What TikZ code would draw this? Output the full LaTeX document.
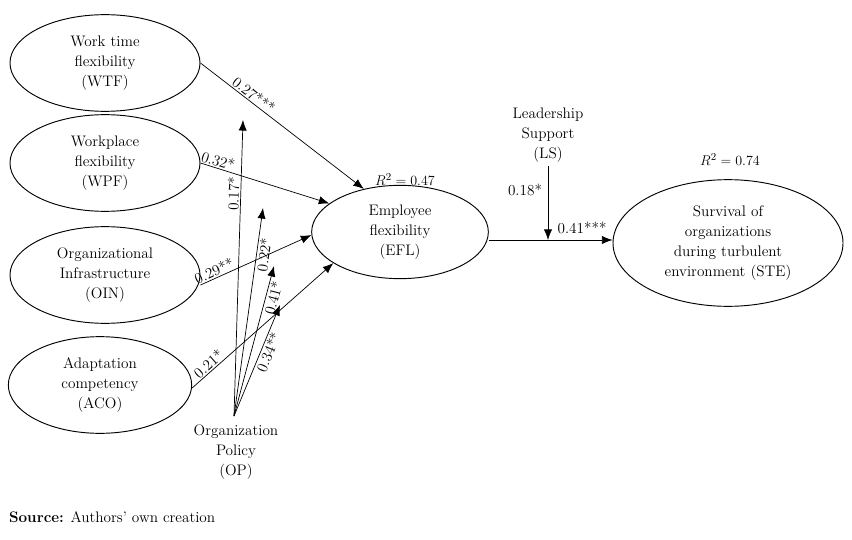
\documentclass[tikz,border=0pt]{standalone}
\usetikzlibrary{positioning, shapes.geometric, arrows.meta}
\begin{document}
\begin{tikzpicture}[x=0.03cm, y=-0.03cm, font=\fontsize{13}{17}\selectfont]

        % Styles
        \tikzset{var/.style={ellipse, draw, thick, align=center, inner sep=0pt},
                 path/.style={-{Latex[length=9pt,width=7pt]}, semithick},
                 coef/.style={sloped, above, inner sep=1pt}}
        \useasboundingbox (0,0) rectangle (852,540);

        % Nœuds
        \node[var, text width=3cm, minimum width=5.7cm, minimum height=2.9cm] (wtf) at (105,63) {Work time\\flexibility\\(WTF)};
        \node[var, text width=3cm, minimum width=5.7cm, minimum height=2.9cm] (wpf) at (105,163) {Workplace\\flexibility\\(WPF)};
        \node[var, text width=3.5cm, minimum width=5.7cm, minimum height=2.9cm] (oin) at (105,275) {Organizational\\Infrastructure\\(OIN)};
        \node[var, text width=3cm, minimum width=5.5cm, minimum height=2.9cm] (aco) at (100,385) {Adaptation\\competency\\(ACO)};
        \node[var, text width=3cm, minimum width=5.3cm, minimum height=2.8cm] (efl) at (400,232) {Employee\\flexibility\\(EFL)};
        \node[var, text width=4.5cm, minimum width=6.9cm, minimum height=3.8cm] (ste) at (728,243) {Survival of\\organizations\\during turbulent\\environment (STE)};
        \node[align=center] (ls) at (548,135) {Leadership\\Support\\(LS)};
        \node[align=center] (op) at (236,452) {Organization\\Policy\\(OP)};
        \node (r1) at (405,180) {$R^2 = 0.47$};
        \node (r2) at (730,160) {$R^2 = 0.74$};
        \node[anchor=west] (src) at (5,517) {\textbf{Source:} Authors’ own creation};

        % Points
        \coordinate (o) at (234,416);
        \coordinate (t1) at (243,120);
        \coordinate (t2) at (263,208);
        \coordinate (t3) at (274,266);
        \coordinate (t4) at (280,305);
        \coordinate (m) at (548,240);

        % Flèches
        \draw[path] (wtf.east |- 0,63) -- (efl.130) node[coef, pos=0.3] {0.27***};
        \draw[path] (wpf.east |- 0,163) -- (efl.158) node[coef, pos=0.12] {0.32*};
        \draw[path] (oin.east |- 0,285) -- (efl.182) node[coef, pos=0.15] {0.29**};
        \draw[path] (aco.east |- 0,388) -- (efl.205) node[coef, pos=0.15] {0.21*};
        \draw[path] (o) -- (t1) node[coef, pos=0.75] {0.17*};
        \draw[path] (o) -- (t2) node[coef, pos=0.78, below] {0.22*};
        \draw[path] (o) -- (t3) node[coef, pos=0.8, below] {0.41*};
        \draw[path] (o) -- (t4) node[coef, pos=0.6, below] {0.34**};
        \draw[path] (efl.east |- 0,240) -- (ste.west |- 0,240);
        \draw[path] (ls.south) -- (m);
        \node at (525,190) {0.18*};
        \node at (582,228) {0.41***};

\end{tikzpicture}
\end{document}
